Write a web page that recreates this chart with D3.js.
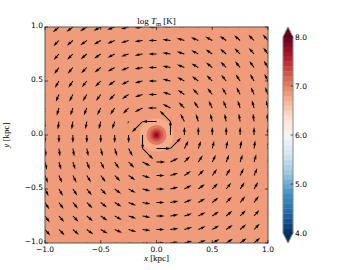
<!DOCTYPE html>
<html>
<head>
<meta charset="utf-8">
<script src="https://cdn.jsdelivr.net/npm/d3@7"></script>
<style>
  body { margin: 0; background: #fff; }
  text { font-family: "DejaVu Sans", sans-serif; font-size: 7.5px; fill: #000; }
  .serif { font-family: "Liberation Serif", "DejaVu Serif", serif; font-size: 9px; }
</style>
</head>
<body>
<svg width="360" height="270"></svg>
<script>
/*
 * Data
 */
var gridX = [-1, -0.875, -0.75, -0.625, -0.5, -0.375, -0.25, -0.125, 0, 0.125, 0.25, 0.375, 0.5, 0.625, 0.75, 0.875, 1];
var gridY = [1, 0.875, 0.75, 0.625, 0.5, 0.375, 0.25, 0.125, 0, -0.125, -0.25, -0.375, -0.5, -0.625, -0.75, -0.875, -1];
// flow direction in degrees (counter-clockwise from +x), one row per gridY
var flowAngle = [
  [225,221,217,212,207,201,194,187,180,173,166,159,153,148,143,139,135],
  [229,225,221,216,210,203,196,188,180,172,164,157,150,145,139,135,131],
  [233,229,225,220,214,207,198,190,180,171,162,153,146,140,135,131,127],
  [238,235,230,225,219,211,202,191,180,169,158,149,141,135,130,126,122],
  [243,240,236,231,225,217,207,194,180,166,153,143,135,129,124,120,117],
  [249,247,243,239,233,225,214,198,180,162,146,135,127,121,117,113,111],
  [256,254,252,248,243,236,225,207,180,153,135,124,117,112,108,106,104],
  [263,262,261,259,256,252,243,225,180,135,117,108,104,101,100,98,97],
  [270,270,270,270,270,270,270,270,0,90,90,90,90,90,90,90,90],
  [277,278,280,281,284,288,297,315,0,45,63,72,76,79,80,82,83],
  [284,286,288,292,297,304,315,333,0,27,45,56,63,68,72,74,76],
  [291,293,297,301,307,315,326,342,0,18,34,45,53,59,63,67,69],
  [297,300,304,309,315,323,333,346,0,14,27,37,45,51,56,60,63],
  [302,306,310,315,321,329,338,349,0,11,22,31,39,45,50,54,58],
  [307,311,315,320,326,333,342,350,0,10,18,27,34,40,45,49,53],
  [311,315,319,324,330,337,344,352,0,8,16,23,30,35,41,45,49],
  [315,319,323,328,333,339,346,353,0,7,14,21,27,32,37,41,45]
];
// flow speed [km/s]
var flowSpeed = [
  [20,20,20,20,20,20,20,20,20,20,20,20,20,20,20,20,20],
  [20,20,20,20,20,20,20,20,20,20,20,20,20,20,20,20,20],
  [20,20,20,20,20,20,20,20,20,20,20,20,20,20,20,20,20],
  [20,20,20,20,20,20,20,20,20,20,20,20,20,20,20,20,20],
  [20,20,20,20,20,20,20,20,20,20,20,20,20,20,20,20,20],
  [20,20,20,20,20,20,20,20,20,20,20,20,20,20,20,20,20],
  [20,20,20,20,20,20,20,22,22,22,20,20,20,20,20,20,20],
  [20,20,20,20,20,20, 6,38,36,38,22,20,20,20,20,20,20],
  [20,20,20,20,20,20,20,36, 0,36,20,20,20,20,20,20,20],
  [20,20,20,20,20,20,22,38,36,38,22,20,20,20,20,20,20],
  [20,20,20,20,20,20,20,22,22,22,20,20,20,20,20,20,20],
  [20,20,20,20,20,20,20,20,20,20,20,20,20,20,20,20,20],
  [20,20,20,20,20,20,20,20,20,20,20,20,20,20,20,20,20],
  [20,20,20,20,20,20,20,20,20,20,20,20,20,20,20,20,20],
  [20,20,20,20,20,20,20,20,20,20,20,20,20,20,20,20,20],
  [20,20,20,20,20,20,20,20,20,20,20,20,20,20,20,20,20],
  [20,20,20,20,20,20,20,20,20,20,20,20,20,20,20,20,20]
];
// temperature field: ambient value plus the hot core as nested contours
var ambientTemp = 6.85;
var coreRadius = [0.15, 0.09, 0.06, 0.04, 0.025, 0.012];
var coreTemp   = [6.75, 7.05, 7.25, 7.45, 7.65, 7.85];

var axisTicks = [-1, -0.5, 0, 0.5, 1];
var cbarTicks = [4, 5, 6, 7, 8];
var levelMin = 4, levelMax = 8, levelCount = 40;
// matplotlib RdBu, reversed below
var rdbuColors = ["#67001f","#b2182b","#d6604d","#f4a582","#fddbc7","#f7f7f7","#d1e5f0","#92c5de","#4393c3","#2166ac","#053061"];

/*
 * Layout
 */
var svg = d3.select("svg"),
    plotL = 45, plotR = 268, plotT = 27, plotB = 243,
    cbL = 283, cbR = 293, cbT = 37, cbB = 233;

var x = d3.scaleLinear().domain([-1, 1]).range([plotL, plotR]),
    y = d3.scaleLinear().domain([-1, 1]).range([plotB, plotT]),
    rdbu = d3.scaleLinear().domain(d3.range(11).map(function(i) { return i / 10; })).range(rdbuColors),
    norm = d3.scaleLinear().domain([levelMin, levelMax]).range([1, 0]).clamp(true),
    lengthScale = d3.scaleLinear().domain([0, 20]).range([0, 8]);

var step = (levelMax - levelMin) / levelCount;
// colour of the contour band that holds a value
function bandColor(v) {
  var k = Math.floor((v - levelMin) / step);
  var mid = levelMin + (k + 0.5) * step;
  if (v > levelMax) return rdbu(0);
  if (v < levelMin) return rdbu(1);
  return rdbu(norm(mid));
}

svg.append("clipPath").attr("id", "plotClip")
  .append("rect").attr("x", plotL).attr("y", plotT)
  .attr("width", plotR - plotL).attr("height", plotB - plotT);

var plot = svg.append("g").attr("clip-path", "url(#plotClip)");

plot.append("rect")
  .attr("x", plotL).attr("y", plotT)
  .attr("width", plotR - plotL).attr("height", plotB - plotT)
  .attr("fill", bandColor(ambientTemp));

plot.append("g").selectAll("circle")
  .data(coreRadius)
  .enter().append("circle")
    .attr("cx", x(0)).attr("cy", y(0))
    .attr("r", function(d) { return x(d) - x(0); })
    .attr("fill", function(d, i) { return bandColor(coreTemp[i]); });

/*
 * Quiver arrows, tail at the grid point (matplotlib default shape)
 */
var arrows = [];
gridY.forEach(function(gy, r) {
  gridX.forEach(function(gx, c) {
    arrows.push({x: gx, y: gy, a: flowAngle[r][c], s: flowSpeed[r][c]});
  });
});

function arrowPath(L) {
  var w = 1.0, hl = 5 * w, hal = 4.5 * w, hw = 1.5 * w, sw = 0.5 * w;
  var f = 1;
  if (L < hl) { f = L / hl; L = hl; }
  var p = [[0, sw], [L - hal, sw], [L - hl, hw], [L, 0], [L - hl, -hw], [L - hal, -sw], [0, -sw]];
  return "M" + p.map(function(q) { return (q[0] * f).toFixed(2) + "," + (q[1] * f).toFixed(2); }).join("L") + "Z";
}

plot.append("g").selectAll("path")
  .data(arrows.filter(function(d) { return d.s > 0; }))
  .enter().append("path")
    .attr("transform", function(d) { return "translate(" + x(d.x) + "," + y(d.y) + ") rotate(" + (-d.a) + ")"; })
    .attr("d", function(d) { return arrowPath(lengthScale(d.s)); })
    .attr("fill", "#000");

/*
 * Frame, ticks (inward on all sides) and labels
 */
var frame = svg.append("g");
frame.append("rect")
  .attr("x", plotL).attr("y", plotT)
  .attr("width", plotR - plotL).attr("height", plotB - plotT)
  .attr("fill", "none").attr("stroke", "#555").attr("stroke-width", 1);

var fmt = function(d) { return d3.format(".1f")(d).replace("-", "\u2212"); };

axisTicks.forEach(function(t) {
  frame.append("line").attr("x1", x(t)).attr("x2", x(t)).attr("y1", plotB).attr("y2", plotB - 3).attr("stroke", "#000").attr("stroke-width", 0.6);
  frame.append("line").attr("x1", x(t)).attr("x2", x(t)).attr("y1", plotT).attr("y2", plotT + 3).attr("stroke", "#000").attr("stroke-width", 0.6);
  frame.append("line").attr("y1", y(t)).attr("y2", y(t)).attr("x1", plotL).attr("x2", plotL + 3).attr("stroke", "#000").attr("stroke-width", 0.6);
  frame.append("line").attr("y1", y(t)).attr("y2", y(t)).attr("x1", plotR).attr("x2", plotR - 3).attr("stroke", "#000").attr("stroke-width", 0.6);
  frame.append("text").attr("x", x(t)).attr("y", plotB + 8.5).attr("text-anchor", "middle").text(fmt(t));
  frame.append("text").attr("x", plotL - 2).attr("y", y(t) - 1.5).attr("dy", "0.35em").attr("text-anchor", "end").text(fmt(t));
});

var title = svg.append("text").attr("class", "serif")
  .attr("x", (plotL + plotR) / 2).attr("y", plotT - 3).attr("text-anchor", "middle");
title.append("tspan").text("log ");
title.append("tspan").attr("font-style", "italic").text("T");
title.append("tspan").attr("font-size", "6.5px").attr("dy", "2").text("m");
title.append("tspan").attr("dy", "-2").text(" [K]");

var xl = svg.append("text").attr("class", "serif")
  .attr("x", (plotL + plotR) / 2).attr("y", 261).attr("text-anchor", "middle");
xl.append("tspan").attr("font-style", "italic").text("x");
xl.append("tspan").text(" [kpc]");

var yl = svg.append("text").attr("class", "serif")
  .attr("transform", "translate(9," + ((plotT + plotB) / 2) + ") rotate(-90)").attr("text-anchor", "middle");
yl.append("tspan").attr("font-style", "italic").text("y");
yl.append("tspan").text(" [kpc]");

/*
 * Colorbar with extensions at both ends
 */
var cb = d3.scaleLinear().domain([levelMin, levelMax]).range([cbB, cbT]);
var levels = d3.range(levelCount).map(function(k) { return levelMin + k * step; });
var cbar = svg.append("g");
cbar.selectAll("rect")
  .data(levels)
  .enter().append("rect")
    .attr("x", cbL).attr("width", cbR - cbL)
    .attr("y", function(d) { return cb(d + step); })
    .attr("height", function(d) { return cb(d) - cb(d + step) + 0.3; })
    .attr("fill", function(d) { return bandColor(d + step / 2); });
var cMid = (cbL + cbR) / 2;
cbar.append("path").attr("d", "M" + cbL + "," + cbT + "L" + cMid + "," + (cbT - 10) + "L" + cbR + "," + cbT + "Z").attr("fill", rdbu(0));
cbar.append("path").attr("d", "M" + cbL + "," + cbB + "L" + cMid + "," + (cbB + 10) + "L" + cbR + "," + cbB + "Z").attr("fill", rdbu(1));
cbar.append("path")
  .attr("d", "M" + cbL + "," + cbT + "L" + cMid + "," + (cbT - 10) + "L" + cbR + "," + cbT + "L" + cbR + "," + cbB +
             "L" + cMid + "," + (cbB + 10) + "L" + cbL + "," + cbB + "Z")
  .attr("fill", "none").attr("stroke", "#888").attr("stroke-width", 1);
cbarTicks.forEach(function(t) {
  cbar.append("line").attr("x1", cbR).attr("x2", cbR - 2.5).attr("y1", cb(t)).attr("y2", cb(t)).attr("stroke", "#000").attr("stroke-width", 0.6);
  cbar.append("text").attr("x", cbR + 2).attr("y", cb(t)).attr("dy", "0.35em").text(d3.format(".1f")(t));
});
</script>
</body>
</html>
